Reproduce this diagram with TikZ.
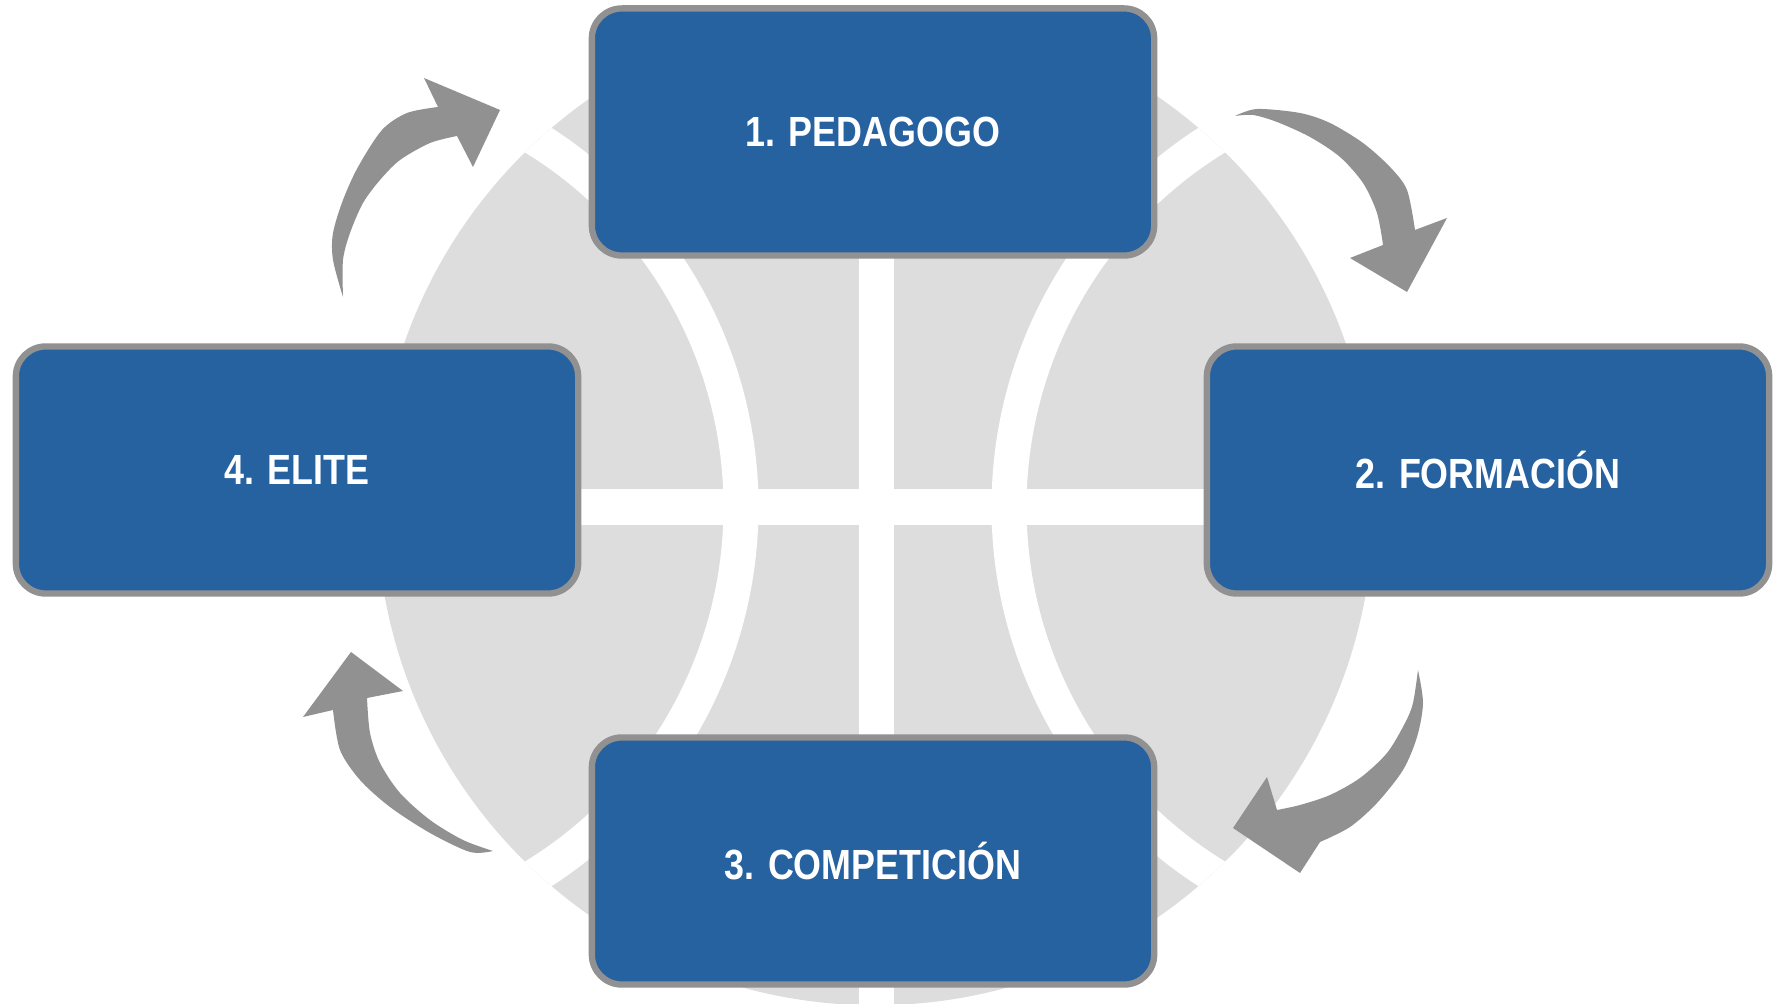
\documentclass[tikz,border=0pt]{standalone}
\usepackage{fontspec}
\newfontfamily\boxfont[FakeStretch=0.85]{Liberation Sans}
\usepackage{tikz}
\definecolor{boxblue}{RGB}{38,97,160}
\definecolor{boxline}{RGB}{145,145,145}
\definecolor{arrgray}{RGB}{145,145,145}
\definecolor{ballgray}{RGB}{221,221,221}
\tikzstyle{box_b} = [rectangle, rounded corners=0.3cm, draw=boxline, fill=boxblue, line width=1.8pt, minimum width=5.62cm, minimum height=2.47cm, text=white, font=\boxfont\bfseries\fontsize{12}{14}\selectfont, align=center]
\tikzstyle{arr_g} = [fill=arrgray]
\tikzstyle{seam_w} = [white, line width=0.35cm]

\begin{document}
\begin{tikzpicture}[x=0.01cm, y=-0.01cm]
\useasboundingbox (0,0) rectangle (1773,1004);
% ball
\fill [ballgray] (875,507) circle (4.98cm);
\begin{scope}
\clip (875,507) circle (4.98cm);
\draw [seam_w] (876,0) -- (876,1004);
\draw [seam_w] (360,507) -- (1390,507);
\draw [seam_w] (741,507) arc[start angle=0, end angle=75, radius=4.33cm]
    (741,507) arc[start angle=0, end angle=-75, radius=4.33cm];
\draw [seam_w] (1009,507) arc[start angle=180, end angle=105, radius=4.33cm]
    (1009,507) arc[start angle=180, end angle=255, radius=4.33cm];
\end{scope}
% boxes
\node [box_b] (ped) at (873,132) {1. PEDAGOGO};
\node [box_b] (form) at (1488,470) {2. FORMACIÓN};
\node [box_b] (comp) at (873,861) {3. COMPETICIÓN};
\node [box_b] (elite) at (297,470) {4. ELITE};
% arrows
\coordinate (t41) at (343,297);
\coordinate (h41) at (500,110);
\coordinate (t12) at (1235,116);
\coordinate (h12) at (1407,292);
\coordinate (t23) at (1418,670);
\coordinate (h23) at (1233,828);
\coordinate (t34) at (493,851);
\coordinate (h34) at (351,652);
\fill [arr_g] plot[smooth] coordinates {(t41) (333,260) (333,233) (343,200) (358,167) (382,130) (407,113) (438,107)}
    -- (424,78) -- (h41) -- (473,167) -- (457,136)
    -- plot[smooth] coordinates {(457,136) (430,143) (400,160) (380,180) (363,203) (350,233) (343,260) (t41)} -- cycle;
\fill [arr_g] plot[smooth] coordinates {(t12) (1257,109) (1300,113) (1330,123) (1363,143) (1390,167) (1407,190) (1415,230)}
    -- (1447,218) -- (h12) -- (1350,258) -- (1383,245)
    -- plot[smooth] coordinates {(1383,245) (1377,213) (1363,183) (1340,157) (1310,137) (1277,122) (1253,115) (t12)} -- cycle;
\fill [arr_g] plot[smooth] coordinates {(t23) (1423,703) (1417,737) (1403,770) (1377,803) (1350,827) (1320,842)}
    -- (1300,873) -- (h23) -- (1267,777) -- (1277,810)
    -- plot[smooth] coordinates {(1277,810) (1300,805) (1330,795) (1360,778) (1387,753) (1405,723) (1413,703) (t23)} -- cycle;
\fill [arr_g] plot[smooth] coordinates {(t34) (470,852) (430,833) (390,807) (360,780) (340,750) (333,710)}
    -- (303,717) -- (h34) -- (403,691) -- (367,698)
    -- plot[smooth] coordinates {(367,698) (370,733) (380,763) (400,793) (430,820) (463,840) (t34)} -- cycle;
\end{tikzpicture}
\end{document}
